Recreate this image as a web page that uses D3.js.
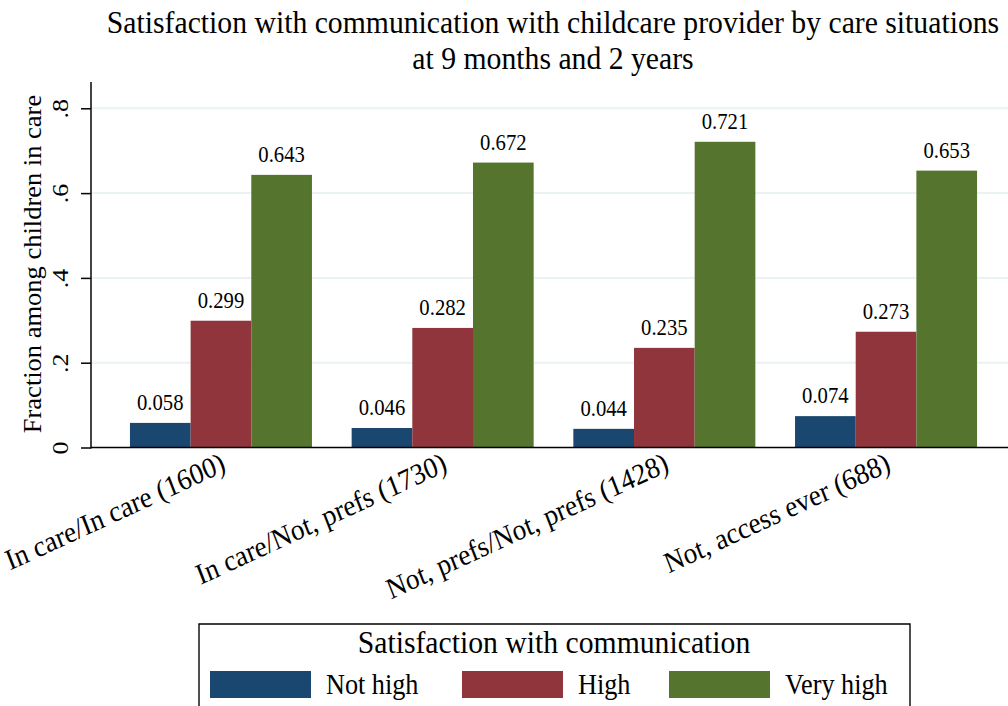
<!DOCTYPE html>
<html>
<head>
<meta charset="utf-8">
<script src="https://cdn.jsdelivr.net/npm/d3@7"></script>
<style>
  html, body { margin: 0; padding: 0; background: #fff; }
  svg { display: block; }
  text { font-family: "Liberation Serif", "Times New Roman", serif; fill: #000; }
</style>
</head>
<body>
<svg id="chart" width="1008" height="706"></svg>
<script>
const categories = ["In care/In care (1600)", "In care/Not, prefs (1730)", "Not, prefs/Not, prefs (1428)", "Not, access ever (688)"];
const seriesNames = ["Not high", "High", "Very high"];
const notHigh = [0.058, 0.046, 0.044, 0.074];
const high = [0.299, 0.282, 0.235, 0.273];
const veryHigh = [0.643, 0.672, 0.721, 0.653];
const yTicks = [0, 0.2, 0.4, 0.6, 0.8];
const yTickLabels = ["0", ".2", ".4", ".6", ".8"];
const colors = ["#1a476f", "#90353b", "#55752f"];
const titleLines = ["Satisfaction with communication with childcare provider by care situations", "at 9 months and 2 years"];
const yTitle = "Fraction among children in care";
const legendTitle = "Satisfaction with communication";

const seriesValues = [notHigh, high, veryHigh];
const data = categories.map((c, i) => ({cat: c, vals: seriesValues.map((s, j) => ({key: seriesNames[j], v: s[i], j}))}));

// The whole graphic is drawn in a frame stretched horizontally, then squeezed (narrow type as in the original)
const K = 0.92;
const sx = v => v / K;

const svg = d3.select("#chart");
const root = svg.append("g").attr("transform", `scale(${K},1)`);
const x0 = sx(91), plotRight = sx(1008);

const y = d3.scaleLinear().domain([0, 0.8]).range([447.5, 108.3]);
const x = d3.scaleBand().domain(categories).range([sx(110), sx(997)]).paddingInner(0.179).paddingOuter(0.09);
const xs = d3.scaleBand().domain(seriesNames).range([0, x.bandwidth()]);

// gridlines
root.append("g").selectAll("line").data(yTicks.filter(d => d > 0)).join("line")
  .attr("x1", x0).attr("x2", plotRight)
  .attr("y1", d => y(d)).attr("y2", d => y(d))
  .attr("stroke", "#eaf2f3").attr("stroke-width", 2);

// bars
const groups = root.append("g").selectAll("g").data(data).join("g")
  .attr("transform", d => `translate(${x(d.cat)},0)`);
groups.selectAll("rect").data(d => d.vals).join("rect")
  .attr("x", d => xs(d.key)).attr("width", xs.bandwidth())
  .attr("y", d => y(d.v)).attr("height", d => y(0) - y(d.v))
  .attr("fill", d => colors[d.j]);
groups.selectAll("text").data(d => d.vals).join("text")
  .attr("x", d => xs(d.key) + xs.bandwidth() / 2)
  .attr("y", d => y(d.v) - 13)
  .attr("text-anchor", "middle").attr("font-size", 22.5)
  .text(d => d.v.toFixed(3));

// y axis
const yAxis = d3.axisLeft(y).tickValues(yTicks).tickFormat((d, i) => yTickLabels[i]).tickSize(sx(10)).tickSizeOuter(0);
const gy = root.append("g").attr("transform", `translate(${x0},0)`).call(yAxis);
gy.select(".domain").remove();
gy.selectAll(".tick line").attr("stroke", "#000").attr("stroke-width", 1.5);
gy.selectAll(".tick text").attr("font-size", 26).attr("font-family", "Liberation Serif")
  .attr("transform", "rotate(-90)").attr("x", 0).attr("y", -sx(23)).attr("dy", 0)
  .attr("text-anchor", "middle");
root.append("line").attr("x1", x0).attr("x2", x0).attr("y1", 82).attr("y2", y(0) + 1)
  .attr("stroke", "#000").attr("stroke-width", 1.6);

// x axis
const xAxis = d3.axisBottom(x).tickSize(0).tickSizeOuter(0);
const gx = root.append("g").attr("transform", `translate(0,${y(0)})`).call(xAxis);
gx.select(".domain").remove();
gx.selectAll(".tick text").attr("font-size", 29.5).attr("font-family", "Liberation Serif")
  .attr("text-anchor", "end").attr("y", 0).attr("dy", 0)
  .attr("transform", `translate(${sx(6)},23) rotate(-23)`);
root.append("line").attr("x1", x0).attr("x2", plotRight).attr("y1", y(0)).attr("y2", y(0))
  .attr("stroke", "#000").attr("stroke-width", 1.5);

// y title
root.append("text").attr("transform", `translate(${sx(41)},${(95 + 433) / 2}) rotate(-90)`)
  .attr("text-anchor", "middle").attr("font-size", 26.5).text(yTitle);

// title
root.append("g").selectAll("text").data(titleLines).join("text")
  .attr("x", sx(553)).attr("y", (d, i) => 33 + i * 36)
  .attr("text-anchor", "middle").attr("font-size", 32.3).text(d => d);

// legend
const lg = root.append("g");
lg.append("rect").attr("x", sx(199)).attr("y", 624).attr("width", sx(711)).attr("height", 110)
  .attr("fill", "#fff").attr("stroke", "#000").attr("stroke-width", 1.5);
lg.append("text").attr("x", sx(554)).attr("y", 653).attr("text-anchor", "middle")
  .attr("font-size", 32.3).text(legendTitle);
const legX = [210, 462, 669];
const items = lg.selectAll("g.item").data(seriesNames).join("g").attr("class", "item")
  .attr("transform", (d, i) => `translate(${sx(legX[i])},671)`);
items.append("rect").attr("width", sx(101)).attr("height", 27).attr("fill", (d, i) => colors[i]);
items.append("text").attr("x", sx(116)).attr("y", 23).attr("font-size", 28.5).text(d => d);
</script>
</body>
</html>
